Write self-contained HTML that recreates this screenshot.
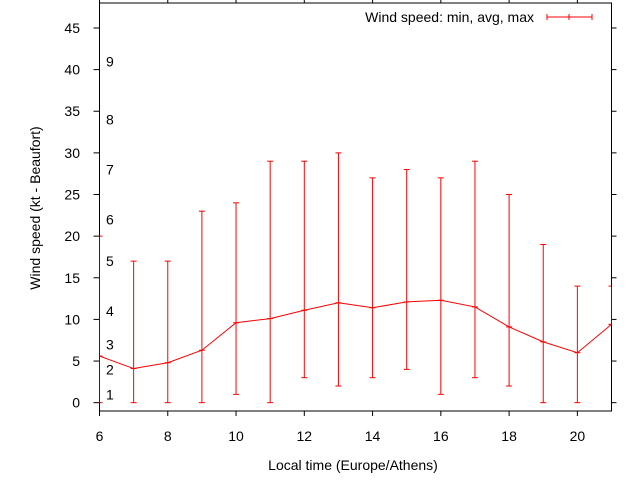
<!DOCTYPE html>
<html><head><meta charset="utf-8"><style>body{margin:0;background:#fff}svg{display:block;font-family:"Liberation Sans",sans-serif}</style></head>
<body>
<svg id="c" width="640" height="480" xmlns="http://www.w3.org/2000/svg"></svg>
<script>
const hours=[6,7,8,9,10,11,12,13,14,15,16,17,18,19,20,21];
const minVals=[0,0,0,0,1,0,3,2,3,4,1,3,2,0,0,9.4];
const avgVals=[5.6,4.1,4.8,6.3,9.6,10.1,11.1,12.0,11.4,12.1,12.3,11.5,9.1,7.3,6.0,9.4];
const maxVals=[20,17,17,23,24,29,29,30,27,28,27,29,25,19,14,14];
const yTicks=[0,5,10,15,20,25,30,35,40,45];
const xTicks=[6,8,10,12,14,16,18,20];
const beaufortLabels=["1","2","3","4","5","6","7","8","9"];
const beaufortKt=[1,4,7,11,17,22,28,34,41];
const L=99.5,R=611.5,T=3,B=411;
const X=v=>L+(v-6)/(21-6)*(R-L);
const Y=v=>B-(v+1)/(48+1)*(B-T);
const svg=document.getElementById('c');const NS='http://www.w3.org/2000/svg';
function mk(t,a,p){const e=document.createElementNS(NS,t);for(const k in a)e.setAttribute(k,a[k]);(p||svg).appendChild(e);return e;}
const ax=mk('g',{});


yTicks.forEach(v=>{const y=Y(v);
mk('line',{x1:L-6,x2:L,y1:y,y2:y,stroke:'#000'},ax);
mk('line',{x1:R,x2:R+5,y1:y,y2:y,stroke:'#000'},ax);
const t=mk('text',{x:80,y:y+5,'text-anchor':'end','font-size':14},ax);t.textContent=v;

});
xTicks.forEach(v=>{const x=X(v);
mk('line',{x1:x,x2:x,y1:B,y2:B+5,stroke:'#000'},ax);
mk('line',{x1:x,x2:x,y1:0,y2:T,stroke:'#000'},ax);
const t=mk('text',{x:x,y:441,'text-anchor':'middle','font-size':14},ax);t.textContent=v;

});
const fr=mk('rect',{x:L,y:T,width:R-L,height:B-T,fill:'none',stroke:'#000'},ax);


beaufortLabels.forEach((s,i)=>{const t=mk('text',{x:106,y:Y(beaufortKt[i])+5,'font-size':14});t.textContent=s;

});
const xt=mk('text',{x:353,y:470,'text-anchor':'middle','font-size':14});xt.textContent='Local time (Europe/Athens)';


const yt=mk('text',{x:0,y:0,'text-anchor':'middle','font-size':14,transform:'translate(40,208) rotate(-90)'});yt.textContent='Wind speed (kt - Beaufort)';


const cp=mk('clipPath',{id:'cp'});mk('rect',{x:L,y:T,width:R-L,height:B-T},cp);
const g=mk('g',{stroke:'#f00','stroke-width':1,fill:'none','clip-path':'url(#cp)'});


hours.forEach((h,i)=>{const x=X(h);
const b=mk('line',{x1:x,x2:x,y1:Y(minVals[i]),y2:Y(maxVals[i])},g);


mk('line',{x1:x-3,x2:x+3,y1:Y(minVals[i]),y2:Y(minVals[i])},g);
mk('line',{x1:x-3,x2:x+3,y1:Y(maxVals[i]),y2:Y(maxVals[i])},g);
mk('line',{x1:x-3,x2:x+3,y1:Y(avgVals[i]),y2:Y(avgVals[i])},g);});
const pl=mk('polyline',{points:hours.map((h,i)=>X(h)+','+Y(avgVals[i])).join(' ')},g);


const lg=mk('g',{});


const lt=mk('text',{x:534,y:22,'text-anchor':'end','font-size':14},lg);lt.textContent='Wind speed: min, avg, max';
mk('line',{x1:547,x2:592,y1:17,y2:17,stroke:'#f00'},lg);
[547,569,592].forEach(x=>mk('line',{x1:x,x2:x,y1:14,y2:20,stroke:'#f00'},lg));
</script>
</body></html>
